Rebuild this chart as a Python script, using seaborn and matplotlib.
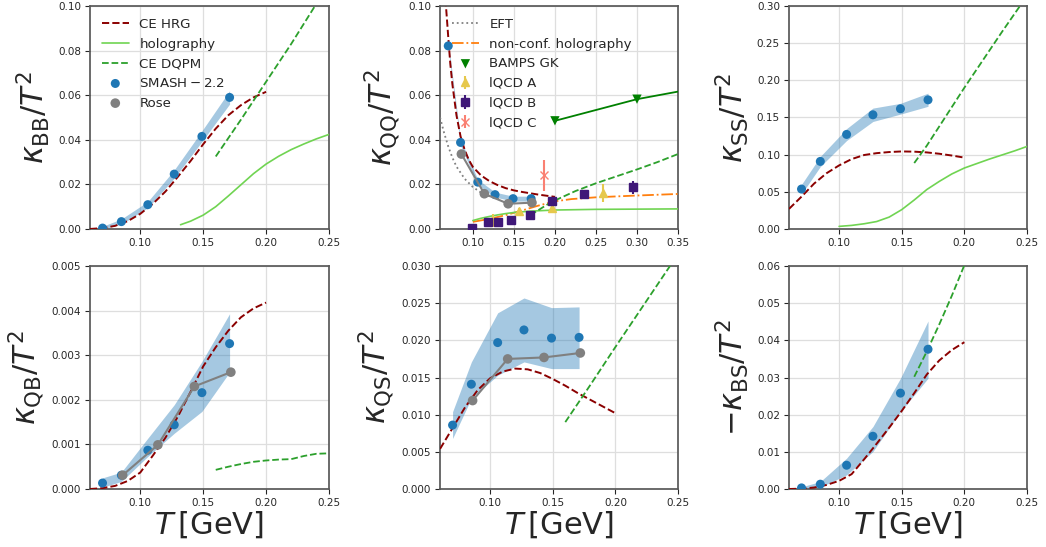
import matplotlib
matplotlib.use("Agg")
import matplotlib.pyplot as plt
import seaborn as sns

# ---------------- data ----------------
T_smash = [0.070, 0.085, 0.106, 0.127, 0.149, 0.171]
T_rose = [0.086, 0.114, 0.143, 0.172]
T_hrg = [0.06, 0.07, 0.08, 0.09, 0.10, 0.11, 0.12, 0.13, 0.14, 0.15, 0.16, 0.17, 0.18, 0.19, 0.20]

# kappa_BB
smash_BB = [0.0004, 0.0033, 0.0109, 0.0246, 0.0415, 0.0590]
smash_BB_lo = [0.0000, 0.0022, 0.0095, 0.0228, 0.0392, 0.0560]
smash_BB_hi = [0.0012, 0.0045, 0.0123, 0.0265, 0.0440, 0.0620]
hrg_BB = [0.0, 0.0004, 0.0014, 0.0035, 0.0068, 0.0113, 0.0168, 0.0235, 0.0305, 0.0380, 0.0450, 0.0510, 0.0555, 0.0590, 0.0615]
T_holo_BB = [0.132, 0.14, 0.15, 0.16, 0.17, 0.18, 0.19, 0.20, 0.21, 0.22, 0.23, 0.24, 0.25]
holo_BB = [0.0019, 0.0035, 0.0062, 0.0100, 0.0148, 0.0198, 0.0248, 0.0291, 0.0326, 0.0356, 0.0381, 0.0404, 0.0424]
T_dqpm_BB = [0.16, 0.18, 0.20, 0.22, 0.24, 0.25]
dqpm_BB = [0.0325, 0.049, 0.066, 0.083, 0.101, 0.110]

# kappa_QQ
smash_QQ = [0.0821, 0.0388, 0.0210, 0.0154, 0.0136, 0.0136]
smash_QQ_lo = [0.0805, 0.0374, 0.0198, 0.0143, 0.0125, 0.0125]
smash_QQ_hi = [0.0837, 0.0402, 0.0222, 0.0165, 0.0147, 0.0147]
rose_QQ = [0.0336, 0.0158, 0.0113, 0.0118]
T_hrg_QQ = [0.066, 0.07, 0.0725, 0.075, 0.08, 0.085, 0.09, 0.095, 0.10, 0.11, 0.12, 0.13, 0.14, 0.15, 0.16, 0.17, 0.18, 0.19, 0.20]
hrg_QQ = [0.106, 0.086, 0.074, 0.065, 0.051, 0.0415, 0.0355, 0.031, 0.0278, 0.0240, 0.0215, 0.0197, 0.0183, 0.0173, 0.0166, 0.0160, 0.0154, 0.0149, 0.0144]
T_eft = [0.06, 0.065, 0.07, 0.075, 0.08, 0.09, 0.10, 0.11, 0.12, 0.13, 0.135]
eft_QQ = [0.050, 0.043, 0.037, 0.032, 0.028, 0.0225, 0.0188, 0.0163, 0.0147, 0.0137, 0.0133]
T_nonconf = [0.10, 0.12, 0.14, 0.16, 0.18, 0.20, 0.22, 0.25, 0.30, 0.35]
nonconf_QQ = [0.0032, 0.0045, 0.0062, 0.0083, 0.0105, 0.0124, 0.0134, 0.0142, 0.0150, 0.0157]
T_holo_QQ = [0.10, 0.11, 0.12, 0.13, 0.14, 0.15, 0.17, 0.20, 0.25, 0.30, 0.35]
holo_QQ = [0.0038, 0.0048, 0.0056, 0.0063, 0.0069, 0.0074, 0.0080, 0.0085, 0.0088, 0.0089, 0.0090]
T_dqpm_QQ = [0.17, 0.18, 0.19, 0.20, 0.225, 0.25, 0.275, 0.30, 0.325, 0.35]
dqpm_QQ = [0.0062, 0.0085, 0.0108, 0.0128, 0.0170, 0.0205, 0.0236, 0.0267, 0.0300, 0.0336]
T_bamps = [0.2, 0.3, 0.4]
bamps_QQ = [0.0485, 0.0582, 0.065]
T_lqcdA = [0.125, 0.156, 0.196, 0.259]
lqcdA = [0.0037, 0.0080, 0.0094, 0.0160]
lqcdA_err = [0.0030, 0.0012, 0.0012, 0.0040]
T_lqcdB = [0.0988, 0.119, 0.131, 0.147, 0.1697, 0.197, 0.236, 0.295]
lqcdB = [0.0004, 0.0030, 0.0032, 0.0038, 0.0062, 0.0124, 0.0158, 0.0186]
lqcdB_err = [0.0005, 0.0012, 0.0008, 0.0008, 0.0015, 0.0015, 0.0015, 0.0028]
T_lqcdC = [0.187]
lqcdC = [0.024]
lqcdC_err = [0.007]

# kappa_SS
smash_SS = [0.0537, 0.0909, 0.1272, 0.1536, 0.1617, 0.1737]
smash_SS_lo = [0.047, 0.084, 0.119, 0.1446, 0.1545, 0.165]
smash_SS_hi = [0.060, 0.0976, 0.135, 0.1626, 0.169, 0.1827]
hrg_SS = [0.027, 0.0435, 0.061, 0.075, 0.0855, 0.094, 0.0995, 0.102, 0.1035, 0.1043, 0.1040, 0.1030, 0.1012, 0.0988, 0.0960]
T_holo_SS = [0.10, 0.11, 0.12, 0.13, 0.14, 0.15, 0.16, 0.17, 0.18, 0.19, 0.20, 0.21, 0.22, 0.23, 0.24, 0.25]
holo_SS = [0.0035, 0.0048, 0.0070, 0.0100, 0.0160, 0.0260, 0.0390, 0.0530, 0.0640, 0.0740, 0.0820, 0.0880, 0.0940, 0.0995, 0.1050, 0.1110]
T_dqpm_SS = [0.16, 0.17, 0.18, 0.19, 0.20, 0.21, 0.22, 0.23, 0.2436, 0.25]
dqpm_SS = [0.0887, 0.112, 0.138, 0.164, 0.190, 0.215, 0.240, 0.265, 0.298, 0.314]

# kappa_QB
smash_QB = [0.000134, 0.00031, 0.00087, 0.00144, 0.00216, 0.00326]
smash_QB_lo = [0.00004, 0.00017, 0.00073, 0.00125, 0.00174, 0.00262]
smash_QB_hi = [0.00025, 0.00038, 0.00114, 0.00189, 0.00286, 0.00393]
rose_QB = [0.00031, 0.00099, 0.0023, 0.00262]
hrg_QB = [0.0, 0.00002, 0.00007, 0.00018, 0.00037, 0.00075, 0.00115, 0.00163, 0.00218, 0.00275, 0.00318, 0.00355, 0.00385, 0.00405, 0.00418]
T_dqpm_QB = [0.16, 0.17, 0.18, 0.19, 0.20, 0.21, 0.22, 0.23, 0.24, 0.25]
dqpm_QB = [0.00043, 0.00050, 0.00056, 0.00061, 0.00064, 0.00066, 0.00067, 0.00074, 0.00079, 0.00080]

# kappa_QS
smash_QS = [0.0086, 0.0141, 0.0197, 0.0214, 0.0203, 0.0204]
smash_QS_lo = [0.0068, 0.0122, 0.0153, 0.0171, 0.0162, 0.0162]
smash_QS_hi = [0.0104, 0.0171, 0.0237, 0.0257, 0.0244, 0.0245]
rose_QS = [0.0119, 0.0175, 0.0177, 0.0183]
hrg_QS = [0.0054, 0.0082, 0.0110, 0.0133, 0.0149, 0.0158, 0.0162, 0.0161, 0.0156, 0.0148, 0.0139, 0.0129, 0.0120, 0.0111, 0.0102]
T_dqpm_QS = [0.16, 0.18, 0.20, 0.22, 0.24, 0.25]
dqpm_QS = [0.0090, 0.0140, 0.0191, 0.0241, 0.0291, 0.0316]

# -kappa_BS
smash_BS = [0.0003, 0.0013, 0.0064, 0.0142, 0.0258, 0.0376]
smash_BS_lo = [0.0000, 0.0005, 0.0038, 0.0101, 0.0208, 0.0298]
smash_BS_hi = [0.0006, 0.0020, 0.0083, 0.0168, 0.0298, 0.0452]
hrg_BS = [0.0, 0.0001, 0.0004, 0.0011, 0.0022, 0.0040, 0.0080, 0.0122, 0.0165, 0.0210, 0.0258, 0.0308, 0.0346, 0.0374, 0.0395]
T_dqpm_BS = [0.16, 0.17, 0.18, 0.19, 0.20, 0.21]
dqpm_BS = [0.0302, 0.0370, 0.0443, 0.0520, 0.0602, 0.069]

# ---------------- style ----------------
sns.set_theme(style="whitegrid", rc={
    "axes.edgecolor": "0.35", "axes.linewidth": 1.25,
    "grid.color": "0.87", "grid.linewidth": 0.9,
    "xtick.bottom": True, "ytick.left": True,
    "xtick.major.size": 3.5, "ytick.major.size": 3.5,
    "xtick.major.width": 0.8, "ytick.major.width": 0.8,
    "xtick.color": "0.15", "ytick.color": "0.15",
    "xtick.labelsize": 7.5, "ytick.labelsize": 7.5,
    "xtick.major.pad": 3, "ytick.major.pad": 3,
})
plt.rcParams['font.family'] = ['DejaVu Sans']
plt.rcParams['mathtext.fontset'] = 'dejavusans'

C_SMASH = "#1f77b4"
C_ROSE = "gray"
C_HRG = "darkred"
C_HOLO = "#70d452"
C_DQPM = "#2ca02c"
C_BAMPS = "green"
C_NONCONF = "#ff7f0e"
C_A = "#e6c84c"
C_B = "#3f1878"
C_C = "salmon"
LAB = 22
LEG = 9.6

fig = plt.figure(figsize=(10.46, 5.47), dpi=100)
lefts = [0.0860, 0.4207, 0.7543]
widths = [0.2285, 0.2275, 0.2275]
bottoms = [0.5814, 0.1060]
h = 0.4077
axes = [[fig.add_axes([lefts[c], bottoms[r], widths[c], h]) for c in range(3)] for r in range(2)]
handles = {}


def smash(ax, y, lo, hi):
    ax.fill_between(T_smash, lo, hi, color=C_SMASH, alpha=0.4, lw=0, zorder=2)
    sns.scatterplot(x=T_smash, y=y, ax=ax, color=C_SMASH, s=42, edgecolor="none",
                    zorder=4, legend=False)
    handles.setdefault("smash", ax.collections[-1])


def rose(ax, y):
    sns.lineplot(x=T_rose, y=y, ax=ax, color=C_ROSE, lw=1.5, zorder=4, legend=False)
    sns.scatterplot(x=T_rose, y=y, ax=ax, color=C_ROSE, s=48, edgecolor="none",
                    zorder=5, legend=False)
    handles.setdefault("rose", ax.collections[-1])


def hrg(ax, x, y):
    sns.lineplot(x=x, y=y, ax=ax, color=C_HRG, lw=1.4, linestyle="--", zorder=3, legend=False)
    handles.setdefault("hrg", ax.get_lines()[-1])


def holo(ax, x, y):
    sns.lineplot(x=x, y=y, ax=ax, color=C_HOLO, lw=1.2, zorder=3, legend=False)
    handles.setdefault("holo", ax.get_lines()[-1])


def dqpm(ax, x, y):
    sns.lineplot(x=x, y=y, ax=ax, color=C_DQPM, lw=1.3, linestyle="--", zorder=3, legend=False)
    handles.setdefault("dqpm", ax.get_lines()[-1])


# ---- BB
ax = axes[0][0]
smash(ax, smash_BB, smash_BB_lo, smash_BB_hi)
hrg(ax, T_hrg, hrg_BB)
holo(ax, T_holo_BB, holo_BB)
dqpm(ax, T_dqpm_BB, dqpm_BB)
ax.set_xlim(0.06, 0.25)
ax.set_ylim(0, 0.10)
ax.set_ylabel(r"$\kappa_{\mathrm{BB}}/T^2$", fontsize=LAB)

# ---- QQ
ax = axes[0][1]
smash(ax, smash_QQ, smash_QQ_lo, smash_QQ_hi)
rose(ax, rose_QQ)
hrg(ax, T_hrg_QQ, hrg_QQ)
sns.lineplot(x=T_eft, y=eft_QQ, ax=ax, color="gray", lw=1.3, linestyle=":", zorder=3, legend=False)
h_eft = ax.get_lines()[-1]
sns.lineplot(x=T_nonconf, y=nonconf_QQ, ax=ax, color=C_NONCONF, lw=1.3, linestyle="-.",
             zorder=3, legend=False)
h_nc = ax.get_lines()[-1]
holo(ax, T_holo_QQ, holo_QQ)
dqpm(ax, T_dqpm_QQ, dqpm_QQ)
sns.lineplot(x=T_bamps, y=bamps_QQ, ax=ax, color=C_BAMPS, lw=1.3, zorder=4, legend=False)
sns.scatterplot(x=T_bamps, y=bamps_QQ, ax=ax, color=C_BAMPS, marker="v", s=45,
                edgecolor="none", zorder=5, legend=False)
h_bamps = ax.collections[-1]
h_a = ax.errorbar(T_lqcdA, lqcdA, yerr=lqcdA_err, fmt="^", color=C_A, ms=6, lw=1.5, zorder=5)
h_b = ax.errorbar(T_lqcdB, lqcdB, yerr=lqcdB_err, fmt="s", color=C_B, ms=6, lw=1.5, zorder=6)
h_c = ax.errorbar(T_lqcdC, lqcdC, yerr=lqcdC_err, fmt="x", color=C_C, ms=6, lw=1.5, zorder=6)
ax.set_xlim(0.06, 0.35)
ax.set_ylim(0, 0.10)
ax.set_ylabel(r"$\kappa_{\mathrm{QQ}}/T^2$", fontsize=LAB)
ax.legend([h_eft, h_nc, h_bamps, h_a, h_b, h_c],
          ["EFT", "non-conf. holography", "BAMPS GK", "lQCD A", "lQCD B", "lQCD C"],
          loc="upper left", frameon=False, fontsize=LEG)

# ---- SS
ax = axes[0][2]
smash(ax, smash_SS, smash_SS_lo, smash_SS_hi)
hrg(ax, T_hrg, hrg_SS)
holo(ax, T_holo_SS, holo_SS)
dqpm(ax, T_dqpm_SS, dqpm_SS)
ax.set_xlim(0.06, 0.25)
ax.set_ylim(0, 0.30)
ax.set_ylabel(r"$\kappa_{\mathrm{SS}}/T^2$", fontsize=LAB)

# ---- QB
ax = axes[1][0]
smash(ax, smash_QB, smash_QB_lo, smash_QB_hi)
rose(ax, rose_QB)
hrg(ax, T_hrg, hrg_QB)
dqpm(ax, T_dqpm_QB, dqpm_QB)
ax.set_xlim(0.06, 0.25)
ax.set_ylim(0, 0.005)
ax.set_ylabel(r"$\kappa_{\mathrm{QB}}/T^2$", fontsize=LAB)

# ---- QS
ax = axes[1][1]
smash(ax, smash_QS, smash_QS_lo, smash_QS_hi)
rose(ax, rose_QS)
hrg(ax, T_hrg, hrg_QS)
dqpm(ax, T_dqpm_QS, dqpm_QS)
ax.set_xlim(0.06, 0.25)
ax.set_ylim(0, 0.030)
ax.set_ylabel(r"$\kappa_{\mathrm{QS}}/T^2$", fontsize=LAB)

# ---- BS
ax = axes[1][2]
smash(ax, smash_BS, smash_BS_lo, smash_BS_hi)
hrg(ax, T_hrg, hrg_BS)
dqpm(ax, T_dqpm_BS, dqpm_BS)
ax.set_xlim(0.06, 0.25)
ax.set_ylim(0, 0.06)
ax.set_ylabel(r"$-\kappa_{\mathrm{BS}}/T^2$", fontsize=LAB)

for ax in axes[1]:
    ax.set_xlabel(r"$T\,[\mathrm{GeV}]$", fontsize=LAB, labelpad=1)

# legend of first panel
axes[0][0].legend([handles["hrg"], handles["holo"], handles["dqpm"], handles["smash"], handles["rose"]],
                  ["CE HRG", "holography", "CE DQPM", r"$\mathrm{SMASH-2.2}$", "Rose"],
                  loc="upper left", frameon=False, fontsize=LEG)

fig.savefig("out.png", dpi=100)
